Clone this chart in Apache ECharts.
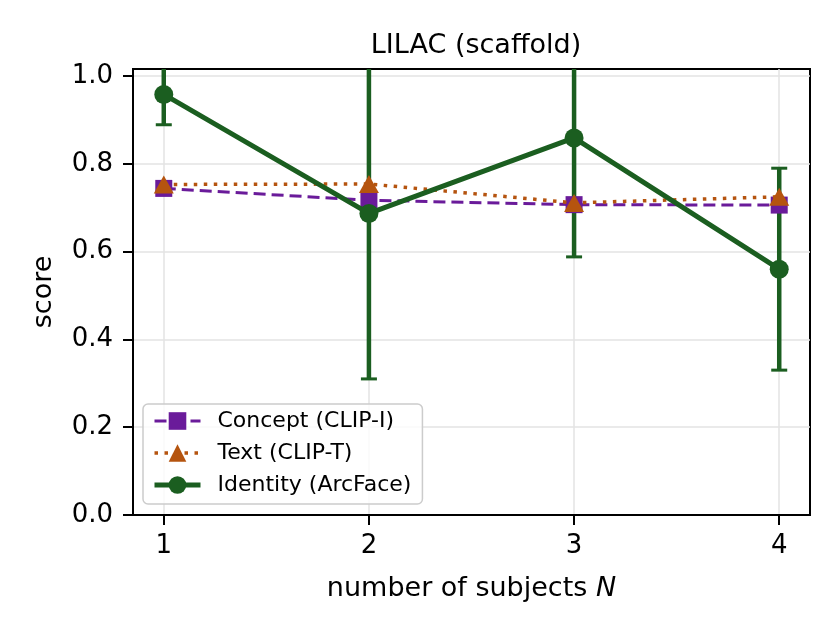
<!DOCTYPE html>
<html>
<head>
<meta charset="utf-8">
<script src="https://cdn.jsdelivr.net/npm/echarts@6/dist/echarts.min.js"></script>
<style>
  html, body { margin: 0; padding: 0; background: #fff; }
  #chart { width: 840px; height: 640px; }
</style>
</head>
<body>
<div id="chart"></div>
<script>
const xValues = [1, 2, 3, 4];
const concept = [0.744, 0.717, 0.707, 0.706];
const textScore = [0.753, 0.754, 0.711, 0.725];
const identity = [0.958, 0.687, 0.859, 0.560];
const identityErr = [0.069, 0.377, 0.271, 0.230];
const yTicks = [0, 0.2, 0.4, 0.6, 0.8, 1.0];

const PURPLE = '#6a1b9a';
const ORANGE = '#b5540f';
const GREEN = '#1b5e20';
const FONT = 'DejaVu Sans';

var myChart = echarts.init(document.getElementById('chart'));

const pairs = (ys) => xValues.map((x, i) => [x, ys[i]]);

const option = {
  animation: false,
  textStyle: { fontFamily: FONT },
  title: {
    text: 'LILAC (scaffold)',
    left: 471,
    top: 27,
    textAlign: 'center',
    textStyle: { fontFamily: FONT, fontSize: 27, fontWeight: 'normal', color: '#000' }
  },
  grid: {
    left: 133, right: 30, top: 69, bottom: 125,
    show: true, borderColor: '#000', borderWidth: 2, backgroundColor: 'transparent'
  },
  legend: {
    left: 143, top: 404,
    orient: 'vertical',
    padding: [6, 11, 8, 9],
    itemWidth: 46, itemHeight: 22, itemGap: 10,
    backgroundColor: 'rgba(255,255,255,0.8)',
    borderColor: '#cccccc', borderWidth: 1.5, borderRadius: 5,
    textStyle: { fontFamily: FONT, fontSize: 22, color: '#000', padding: [0, 0, 0, 12] },
    data: [
      { name: 'Concept (CLIP-I)', lineStyle: { width: 3, type: [12, 6] } },
      { name: 'Text (CLIP-T)', lineStyle: { width: 3.5, type: [3.5, 6.5] } },
      { name: 'Identity (ArcFace)', lineStyle: { width: 5 } }
    ]
  },
  xAxis: {
    type: 'value', min: 0.85, max: 4.15,
    name: 'number of subjects {i|N}',
    nameLocation: 'middle', nameGap: 60,
    nameTextStyle: {
      fontFamily: FONT, fontSize: 27, color: '#000',
      rich: { i: { fontFamily: FONT, fontSize: 27, fontStyle: 'italic', color: '#000' } }
    },
    axisLine: { show: true, onZero: false, lineStyle: { color: '#000', width: 2 } },
    axisTick: { show: true, customValues: xValues, length: 10, lineStyle: { color: '#000', width: 2 } },
    axisLabel: { customValues: xValues, fontFamily: FONT, fontSize: 26, color: '#000', margin: 18 },
    splitLine: { show: true, lineStyle: { color: '#e3e3e3', width: 1.5 } }
  },
  yAxis: {
    type: 'value', min: 0, max: 1.016, interval: 0.2,
    name: 'score',
    nameLocation: 'middle', nameGap: 76,
    nameTextStyle: { fontFamily: FONT, fontSize: 27, color: '#000' },
    axisLine: { show: true, onZero: false, lineStyle: { color: '#000', width: 2 } },
    axisTick: { show: true, customValues: yTicks, length: 10, lineStyle: { color: '#000', width: 2 } },
    axisLabel: {
      customValues: yTicks, fontFamily: FONT, fontSize: 26, color: '#000', margin: 20,
      formatter: (v) => v.toFixed(1)
    },
    splitLine: { show: true, lineStyle: { color: '#e3e3e3', width: 1.5 } }
  },
  series: [
    {
      name: 'Identity error',
      type: 'custom',
      z: 1,
      silent: true,
      data: xValues.map((x, i) => [x, identity[i], identityErr[i]]),
      renderItem: (params, api) => {
        const x = api.value(0), y = api.value(1), e = api.value(2);
        const lo = api.coord([x, y - e]);
        const hi = api.coord([x, y + e]);
        const cs = params.coordSys;
        const top = Math.max(hi[1], cs.y);
        const bot = Math.min(lo[1], cs.y + cs.height);
        const children = [{
          type: 'line',
          shape: { x1: lo[0], y1: top, x2: lo[0], y2: bot },
          style: { stroke: GREEN, lineWidth: 4.5 }
        }];
        [lo[1], hi[1]].forEach((cy) => {
          if (cy >= cs.y && cy <= cs.y + cs.height) {
            children.push({
              type: 'line',
              shape: { x1: lo[0] - 8, y1: cy, x2: lo[0] + 8, y2: cy },
              style: { stroke: GREEN, lineWidth: 3 }
            });
          }
        });
        return { type: 'group', children };
      }
    },
    {
      name: 'Concept (CLIP-I)',
      type: 'line',
      z: 2,
      data: pairs(concept),
      symbol: 'rect', symbolSize: 17,
      itemStyle: { color: PURPLE },
      lineStyle: { color: PURPLE, width: 3, type: [12, 6] }
    },
    {
      name: 'Text (CLIP-T)',
      type: 'line',
      z: 3,
      data: pairs(textScore),
      symbol: 'triangle', symbolSize: [20, 18],
      itemStyle: { color: ORANGE },
      lineStyle: { color: ORANGE, width: 3.5, type: [3.5, 6.5] }
    },
    {
      name: 'Identity (ArcFace)',
      type: 'line',
      z: 4,
      data: pairs(identity),
      symbol: 'circle', symbolSize: 19,
      itemStyle: { color: GREEN },
      lineStyle: { color: GREEN, width: 5 }
    }
  ]
};

myChart.setOption(option);
</script>
</body>
</html>
